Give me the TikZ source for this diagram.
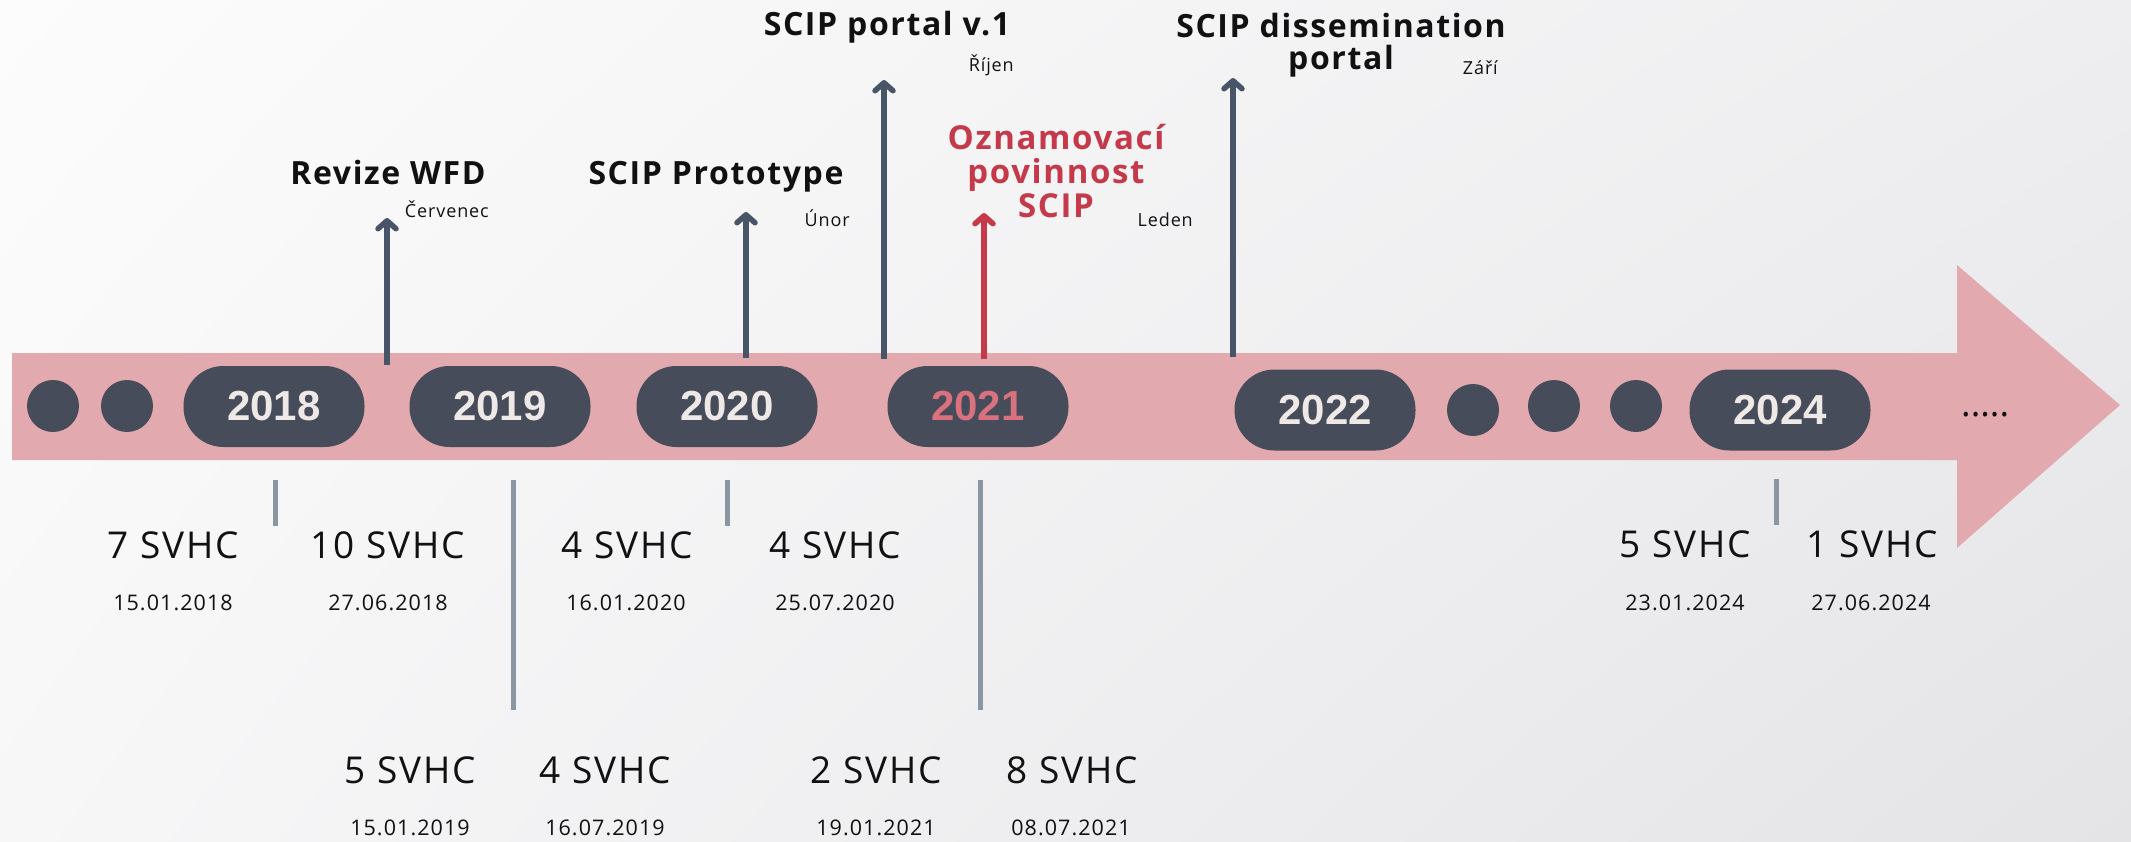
\documentclass[tikz,border=0pt]{standalone}
\usepackage{fontspec}
\setmainfont{Open Sans}
\newfontfamily\labfont[LetterSpace=5]{Open Sans}
\newfontfamily\yearfont{Liberation Sans}
\usetikzlibrary{arrows.meta,shadings}
\definecolor{bandpink}{RGB}{226,169,175}
\definecolor{pilldark}{RGB}{70,76,89}
\definecolor{yeartxt}{RGB}{238,233,230}
\definecolor{yearred}{RGB}{217,113,127}
\definecolor{arrowslate}{RGB}{72,85,104}
\definecolor{alertred}{RGB}{196,58,74}
\definecolor{tickgrey}{RGB}{140,150,163}
\definecolor{bgA}{RGB}{252,252,252}
\definecolor{bgB}{RGB}{238,238,240}
\definecolor{bgC}{RGB}{247,247,248}
\definecolor{bgD}{RGB}{228,228,231}
\definecolor{inkblack}{RGB}{17,17,17}
\tikzset{
  pill/.style={draw=none, fill=pilldark, rectangle, rounded corners=40pt,
    minimum width=181pt, minimum height=81pt, inner sep=0pt, text=yeartxt,
    font=\yearfont\bfseries\fontsize{42}{42}\selectfont},
  dot/.style={draw=none, fill=pilldark, circle, minimum size=52pt, inner sep=0pt},
  evtitle/.style={inner sep=0pt, anchor=base, text=inkblack,
    font=\labfont\bfseries\fontsize{32}{32}\selectfont},
  month/.style={inner sep=0pt, anchor=base east, text=inkblack,
    font=\labfont\fontsize{18}{18}\selectfont},
  svhc/.style={inner sep=0pt, anchor=base, text=inkblack,
    font=\labfont\fontsize{37}{37}\selectfont},
  datelab/.style={inner sep=0pt, anchor=base, text=inkblack,
    font=\labfont\fontsize{21.5}{21.5}\selectfont},
  uparrow/.style={draw=arrowslate, line width=5.5pt,
    -{Straight Barb[length=8pt,width=18pt,round]}},
  tick/.style={draw=tickgrey, line width=5pt}
}
\begin{document}
\begin{tikzpicture}[x=1pt,y=-1pt]
\useasboundingbox (0,0) rectangle (2131,842);
\shade[upper left=bgA, upper right=bgB, lower left=bgC, lower right=bgD] (0,0) rectangle (2131,842);

% band arrow
\fill[bandpink] (12,353) -- (1957,353) -- (1957,265) -- (2120,405) -- (1957,548) -- (1957,460) -- (12,460) -- cycle;

% dots and pills
\node[dot] (d1) at (53,406) {};
\node[dot] (d2) at (127,406) {};
\node[pill] (y2018) at (274,406.5) {2018};
\node[pill] (y2019) at (500,406.5) {2019};
\node[pill] (y2020) at (727,406.5) {2020};
\node[pill, text=yearred] (y2021) at (978,406.5) {2021};
\node[pill] (y2022) at (1325,410) {2022};
\node[dot] (d3) at (1473,410) {};
\node[dot] (d4) at (1554,406) {};
\node[dot] (d5) at (1636,406) {};
\node[pill] (y2024) at (1780,410) {2024};
\node[inner sep=0pt, anchor=base west, text=inkblack, font=\fontsize{36}{36}\selectfont] (more) at (1961,416) {.....};

% events above
\node[evtitle] (revize) at (388,185) {Revize WFD};
\node[month] (cerv) at (489,218) {Červenec};
\node[evtitle] (proto) at (716,185) {SCIP Prototype};
\node[month] (unor) at (850,227) {Únor};
\node[evtitle] (portal) at (887,36) {SCIP portal v.1};
\node[month] (rijen) at (1014,72) {Říjen};
\node[evtitle, text=alertred, align=center, font=\labfont\bfseries\fontsize{33}{34}\selectfont] (ozn) at (1056,218) {Oznamovací\\povinnost\\SCIP};
\node[month] (leden) at (1193,227) {Leden};
\node[evtitle, align=center, font=\labfont\bfseries\fontsize{32}{32}\selectfont] (dissem) at (1341,70) {SCIP dissemination\\portal};
\node[month] (zari) at (1498,75) {Září};

\coordinate (a1s) at (387,365); \coordinate (a1e) at (387,218);
\coordinate (a2s) at (746,358); \coordinate (a2e) at (746,212);
\coordinate (a3s) at (884,359); \coordinate (a3e) at (884,80);
\coordinate (a4s) at (984,359); \coordinate (a4e) at (984,213);
\coordinate (a5s) at (1233,357); \coordinate (a5e) at (1233,78);
\draw[uparrow] (a1s) -- (a1e);
\draw[uparrow] (a2s) -- (a2e);
\draw[uparrow] (a3s) -- (a3e);
\draw[uparrow, draw=alertred] (a4s) -- (a4e);
\draw[uparrow] (a5s) -- (a5e);

% ticks below
\coordinate (t1s) at (275,480); \coordinate (t1e) at (275,526);
\coordinate (t2s) at (513,480); \coordinate (t2e) at (513,710);
\coordinate (t3s) at (727,480); \coordinate (t3e) at (727,526);
\coordinate (t4s) at (980,480); \coordinate (t4e) at (980,710);
\coordinate (t5s) at (1776,479); \coordinate (t5e) at (1776,525);
\draw[tick] (t1s) -- (t1e);
\draw[tick] (t2s) -- (t2e);
\draw[tick] (t3s) -- (t3e);
\draw[tick] (t4s) -- (t4e);
\draw[tick] (t5s) -- (t5e);

% SVHC labels, top row
\node[svhc] (s1) at (173,558) {7 SVHC};
\node[datelab] (s1d) at (173,610) {15.01.2018};
\node[svhc] (s2) at (388,558) {10 SVHC};
\node[datelab] (s2d) at (388,610) {27.06.2018};
\node[svhc] (s3) at (627,558) {4 SVHC};
\node[datelab] (s3d) at (626,610) {16.01.2020};
\node[svhc] (s4) at (835,558) {4 SVHC};
\node[datelab] (s4d) at (835,610) {25.07.2020};
\node[svhc] (s5) at (1685,557) {5 SVHC};
\node[datelab] (s5d) at (1685,610) {23.01.2024};
\node[svhc] (s6) at (1872,557) {1 SVHC};
\node[datelab] (s6d) at (1871,610) {27.06.2024};
% bottom row
\node[svhc] (b1) at (410,783) {5 SVHC};
\node[datelab] (b1d) at (410,835) {15.01.2019};
\node[svhc] (b2) at (605,783) {4 SVHC};
\node[datelab] (b2d) at (605,835) {16.07.2019};
\node[svhc] (b3) at (876,783) {2 SVHC};
\node[datelab] (b3d) at (876,835) {19.01.2021};
\node[svhc] (b4) at (1072,783) {8 SVHC};
\node[datelab] (b4d) at (1071,835) {08.07.2021};
\end{tikzpicture}
\end{document}
